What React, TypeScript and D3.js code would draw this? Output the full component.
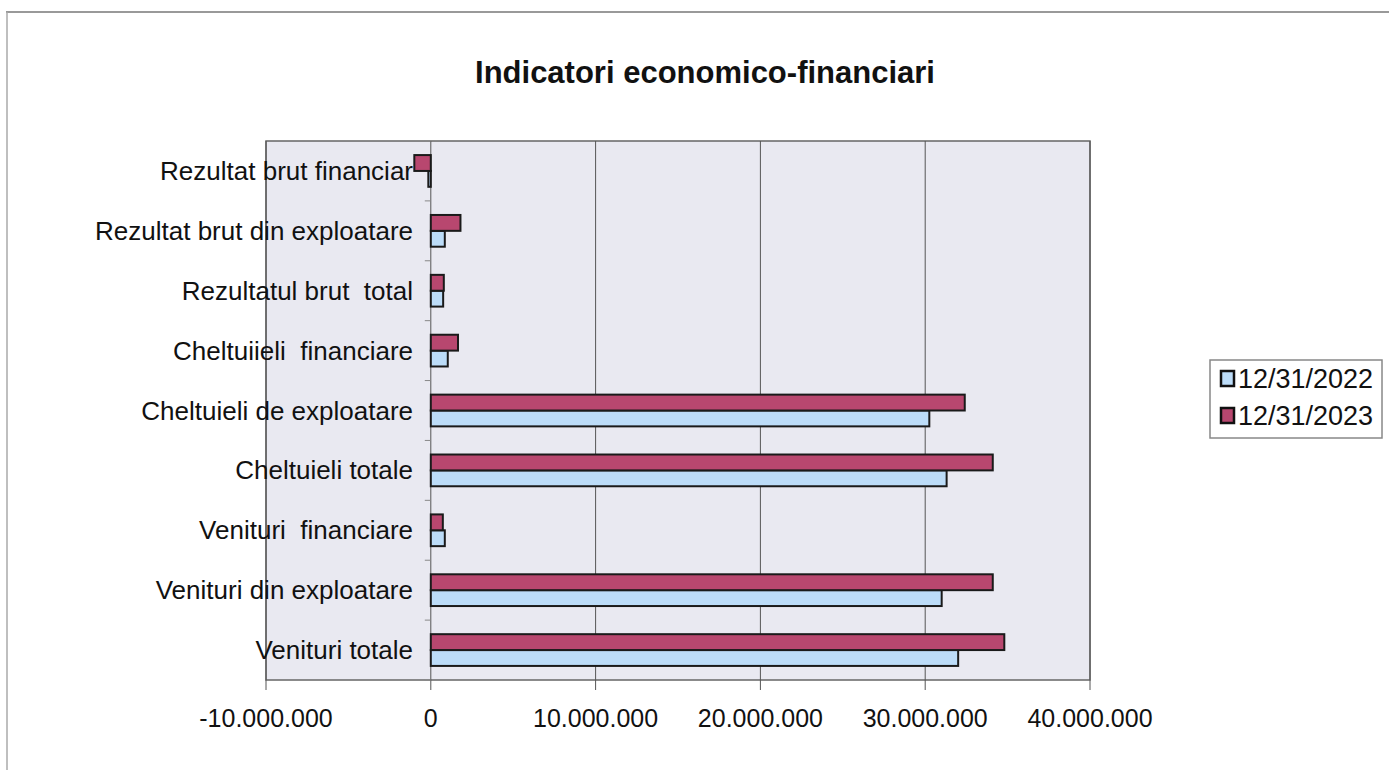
import React from "react";
import * as d3 from "d3";

const categories = [
  "Venituri totale",
  "Venituri din exploatare",
  "Venituri  financiare",
  "Cheltuieli totale",
  "Cheltuieli de exploatare",
  "Cheltuiieli  financiare",
  "Rezultatul brut  total",
  "Rezultat brut din exploatare",
  "Rezultat brut financiar",
];
const series2022 = [32000000, 31000000, 850000, 31300000, 30250000, 1030000, 750000, 850000, -150000];
const series2023 = [34800000, 34100000, 730000, 34100000, 32400000, 1650000, 790000, 1800000, -1000000];
const seriesNames = ["12/31/2022", "12/31/2023"];
const tickValues = [-10000000, 0, 10000000, 20000000, 30000000, 40000000];

const W = 1389;
const H = 770;
const plot = { left: 266, right: 1090, top: 141, bottom: 680 };
const fmt = (v: number) => {
  if (v === 0) return "0";
  const s = d3.format(",")(Math.abs(v)).replace(/,/g, ".");
  return (v < 0 ? "-" : "") + s;
};

export default function App() {
  const x = d3.scaleLinear().domain([-10000000, 40000000]).range([plot.left, plot.right]);
  const y = d3
    .scaleBand<number>()
    .domain(d3.range(categories.length).reverse())
    .range([plot.top, plot.bottom])
    .paddingInner(0.47)
    .paddingOuter(0.235);
  const inner = d3.scaleBand<number>().domain([1, 0]).range([0, y.bandwidth()]);
  const colors = ["#bcdcf8", "#b8476f"];
  const font = "'Liberation Sans', Arial, sans-serif";
  const outerBand = (plot.bottom - plot.top) / categories.length;

  return (
    <svg width={W} height={H} style={{ position: "absolute", left: 0, top: 0, background: "#fff" }}>
      <line x1={6} y1={12} x2={W} y2={12} stroke="#999" strokeWidth={2} />
      <line x1={7} y1={12} x2={7} y2={H} stroke="#aaa" strokeWidth={1.5} />
      <text x={705} y={83} textAnchor="middle" fontFamily={font} fontWeight="bold" fontSize={31} fill="#111">
        Indicatori economico-financiari
      </text>
      <rect
        x={plot.left}
        y={plot.top}
        width={plot.right - plot.left}
        height={plot.bottom - plot.top}
        fill="#e9e9f1"
        stroke="#666"
        strokeWidth={1.5}
      />
      {tickValues.map((t) => (
        <g key={t}>
          <line x1={x(t)} x2={x(t)} y1={plot.top} y2={plot.bottom + 10} stroke="#555" strokeWidth={1} />
          <text x={x(t)} y={727} textAnchor="middle" fontFamily={font} fontSize={25} fill="#111">
            {fmt(t)}
          </text>
        </g>
      ))}
      {d3.range(categories.length + 1).map((i) => (
        <line
          key={"ct" + i}
          x1={x(0) - 6}
          x2={x(0)}
          y1={plot.top + i * outerBand}
          y2={plot.top + i * outerBand}
          stroke="#888"
          strokeWidth={1}
        />
      ))}
      {categories.map((c, i) =>
        [series2022, series2023].map((s, si) => {
          const v = s[i];
          const x0 = x(Math.min(0, v));
          const x1 = x(Math.max(0, v));
          return (
            <rect
              key={c + si}
              x={x0}
              y={(y(i) as number) + (inner(si) as number)}
              width={Math.max(x1 - x0, 1)}
              height={inner.bandwidth()}
              fill={colors[si]}
              stroke="#1a1a1a"
              strokeWidth={2}
            />
          );
        })
      )}
      {categories.map((c, i) => (
        <text
          key={"l" + i}
          x={413}
          y={(y(i) as number) + y.bandwidth() / 2 + 9}
          textAnchor="end"
          fontFamily={font}
          fontSize={26}
          fill="#111"
          style={{ whiteSpace: "pre" }}
        >
          {c}
        </text>
      ))}
      <g>
        <rect x={1210} y={360} width={172} height={78} fill="#fff" stroke="#888" strokeWidth={1.5} />
        {seriesNames.map((n, i) => (
          <g key={n}>
            <rect x={1221} y={371 + i * 37} width={13} height={15} fill={colors[i]} stroke="#111" strokeWidth={2.5} />
            <text x={1238} y={388 + i * 37} fontFamily={font} fontSize={27} fill="#111">
              {n}
            </text>
          </g>
        ))}
      </g>
    </svg>
  );
}
